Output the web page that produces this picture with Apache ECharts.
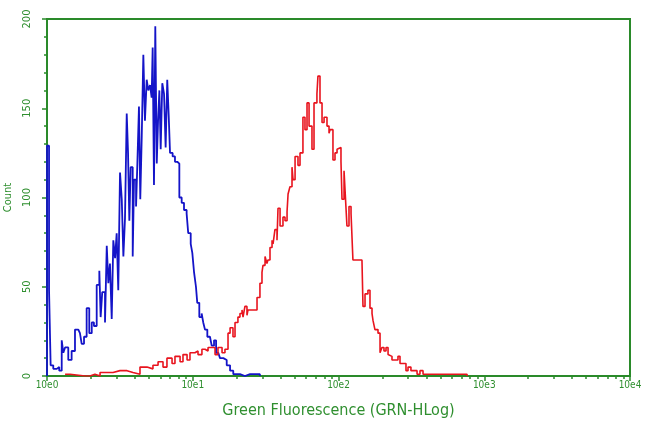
<!DOCTYPE html>
<html>
<head>
<meta charset="utf-8">
<script src="https://cdn.jsdelivr.net/npm/echarts@6/dist/echarts.min.js"></script>
<style>
  html, body { margin: 0; padding: 0; background: #fff; }
  #hist { width: 650px; height: 430px; }
</style>
</head>
<body>
<div id="hist"></div>
<script>
// log decade position (10e0 = 0 ... 10e4 = 4) and event count per channel
var blueLog = [0, 0, 0.014, 0.025, 0.043, 0.067, 0.084, 0.101, 0.112, 0.124, 0.146, 0.169, 0.192, 0.215, 0.226,
  0.238, 0.254, 0.272, 0.290, 0.307, 0.322, 0.341, 0.359, 0.368, 0.379, 0.398, 0.410, 0.421, 0.432, 0.444,
  0.455, 0.467, 0.478, 0.489, 0.501, 0.513, 0.524, 0.535, 0.547, 0.556, 0.565, 0.574, 0.588, 0.597, 0.611,
  0.620, 0.631, 0.640, 0.650, 0.661, 0.672, 0.684, 0.695, 0.707, 0.718, 0.725, 0.734, 0.743, 0.753, 0.762,
  0.771, 0.780, 0.791, 0.803, 0.814, 0.825, 0.835, 0.844, 0.862, 0.878, 0.894, 0.908, 0.924, 0.940, 0.958,
  0.969, 0.986, 0.997, 1.009, 1.022, 1.031, 1.045, 1.061, 1.072, 1.084, 1.100, 1.118, 1.130, 1.146, 1.160,
  1.175, 1.187, 1.210, 1.233, 1.256, 1.278, 1.297, 1.324, 1.358, 1.393, 1.427, 1.461];
var blueCount = [0, 129, 48, 6, 4, 5, 3, 20, 13, 16, 9, 14, 26, 27, 24,
  18, 22, 38, 24, 30, 28, 51, 59, 33, 47, 30, 73, 52, 63, 32,
  76, 66, 80, 48, 114, 99, 67, 88, 147, 125, 87, 117, 67, 110, 95,
  119, 151, 99, 134, 180, 143, 166, 160, 163, 156, 184, 107, 196, 119, 143,
  160, 127, 164, 158, 128, 166, 146, 125, 123, 120, 119, 100, 97, 93, 91,
  80, 74, 69, 58, 50, 41, 33, 35, 30, 26, 22, 21, 17, 20, 13,
  12, 10, 9, 6, 3, 1, 1, 0, 1, 1, 1, 0];

var redLog = [0.124, 0.158, 0.261, 0.295, 0.329, 0.364, 0.412, 0.453, 0.501, 0.549, 0.590, 0.638, 0.686, 0.727,
  0.762, 0.796, 0.823, 0.858, 0.878, 0.913, 0.933, 0.961, 0.981, 1.015, 1.036, 1.063, 1.084, 1.105, 1.132,
  1.153, 1.173, 1.201, 1.221, 1.242, 1.256, 1.276, 1.290, 1.310, 1.324, 1.338, 1.345, 1.358, 1.372, 1.379,
  1.407, 1.427, 1.441, 1.461, 1.475, 1.482, 1.496, 1.509, 1.516, 1.530, 1.544, 1.551, 1.564, 1.578, 1.585,
  1.599, 1.612, 1.619, 1.633, 1.647, 1.654, 1.667, 1.681, 1.688, 1.702, 1.722, 1.736, 1.756, 1.770, 1.784,
  1.798, 1.818, 1.832, 1.852, 1.859, 1.873, 1.887, 1.901, 1.921, 1.935, 1.942, 1.962, 1.976, 1.990, 2.003,
  2.017, 2.024, 2.038, 2.045, 2.058, 2.072, 2.086, 2.099, 2.120, 2.141, 2.161, 2.168, 2.182, 2.202, 2.216,
  2.230, 2.237, 2.250, 2.271, 2.285, 2.298, 2.312, 2.326, 2.340, 2.353, 2.367, 2.388, 2.408, 2.422, 2.443,
  2.463, 2.477, 2.497, 2.518, 2.539, 2.559, 2.580, 2.614, 2.662, 2.696, 2.751, 2.799, 2.847, 2.882];
var redCount = [1, 0, 0, 1, 0, 2, 2, 3, 3, 2, 1, 5, 4, 6,
  8, 5, 10, 7, 11, 8, 12, 9, 13, 14, 12, 15, 14, 16, 16,
  12, 16, 13, 15, 24, 27, 22, 30, 33, 35, 37, 33, 39, 34, 37,
  37, 37, 44, 52, 58, 62, 67, 63, 65, 72, 76, 74, 82, 76, 94,
  84, 84, 89, 87, 92, 102, 106, 117, 110, 123, 118, 125, 145, 138, 153,
  140, 127, 153, 158, 168, 153, 142, 145, 140, 136, 138, 121, 125, 127, 128,
  120, 99, 115, 104, 84, 95, 91, 65, 65, 65, 65, 39, 46, 48, 38,
  35, 31, 26, 24, 13, 16, 14, 16, 12, 11, 9, 9, 11, 7, 7,
  3, 5, 3, 3, 1, 3, 1, 1, 1, 1, 1, 1, 1, 0];

var decadeLabels = ['10e0', '10e1', '10e2', '10e3', '10e4'];

var green = '#2a8a2a';
var txtGreen = '#2f8f2f';

function pairs(xs, ys) {
  return xs.map(function (x, i) { return [x, ys[i]]; });
}

// log-spaced minor ticks inside each decade
var minorTicks = [];
for (var n = 0; n < 4; n++) {
  for (var k = 2; k <= 9; k++) minorTicks.push(n + Math.log10(k));
}

var chart = echarts.init(document.getElementById('hist'));
chart.setOption({
  animation: false,
  backgroundColor: '#fff',
  grid: {
    left: 47, right: 20, top: 19, bottom: 54,
    containLabel: false, outerBoundsMode: 'none',
    show: true, borderColor: green, borderWidth: 2, backgroundColor: 'transparent'
  },
  xAxis: [{
    type: 'value', min: 0, max: 4, interval: 1,
    name: 'Green Fluorescence (GRN-HLog)',
    nameLocation: 'middle', nameGap: 27,
    nameTextStyle: { color: txtGreen, fontSize: 16, fontFamily: 'Liberation Sans Narrow, DejaVu Sans Condensed, sans-serif' },
    axisLine: { lineStyle: { color: green, width: 2 } },
    axisTick: { length: 5, lineStyle: { color: green, width: 1.5 } },
    axisLabel: {
      color: txtGreen, fontSize: 10, margin: 4, fontFamily: 'DejaVu Sans Condensed, sans-serif',
      formatter: function (v) { return decadeLabels[Math.round(v)]; }
    },
    splitLine: { show: false }
  }, {
    type: 'value', min: 0, max: 4, position: 'bottom',
    axisLine: { show: false },
    axisTick: { show: true, length: 3, customValues: minorTicks, lineStyle: { color: green, width: 1.5 } },
    axisLabel: { show: false },
    splitLine: { show: false }
  }],
  yAxis: {
    type: 'value', min: 0, max: 200, interval: 50,
    name: 'Count', nameLocation: 'middle', nameGap: 30, nameRotate: 90,
    nameTextStyle: { color: txtGreen, fontSize: 11, fontFamily: 'DejaVu Sans Condensed, sans-serif' },
    axisLine: { show: true, lineStyle: { color: green, width: 2 } },
    axisTick: { show: true, length: 5, lineStyle: { color: green, width: 1.5 } },
    minorTick: { show: true, splitNumber: 5, length: 3, lineStyle: { color: green, width: 1.5 } },
    axisLabel: { color: txtGreen, fontSize: 11, rotate: 90, margin: 14, fontFamily: 'DejaVu Sans Condensed, sans-serif' },
    splitLine: { show: false },
    minorSplitLine: { show: false }
  },
  series: [{
    name: 'control',
    type: 'line', step: 'end', symbol: 'none',
    lineStyle: { color: '#1414c8', width: 1.8 },
    data: pairs(blueLog, blueCount)
  }, {
    name: 'stained',
    type: 'line', step: 'end', symbol: 'none',
    lineStyle: { color: '#e8141e', width: 1.6 },
    data: pairs(redLog, redCount)
  }]
});
</script>
</body>
</html>
